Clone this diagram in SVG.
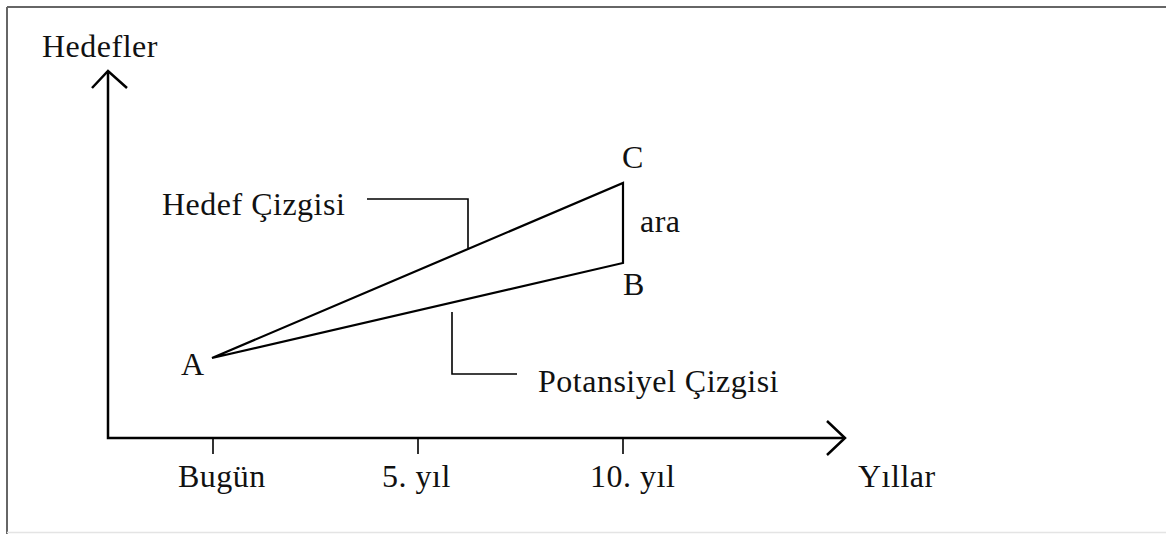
<svg xmlns="http://www.w3.org/2000/svg" width="1166" height="534" viewBox="0 0 1166 534">
<style>
text{font-family:"Liberation Serif","Times New Roman",serif;font-size:32px;fill:#111;letter-spacing:0.5px}
.ax{stroke:#000;stroke-width:2.5;fill:none}
.ln{stroke:#000;stroke-width:2.2;fill:none;stroke-linejoin:miter}
.ld{stroke:#000;stroke-width:1.6;fill:none}
</style>
<rect width="1166" height="534" fill="#fff"/>
<g id="frame">
<line x1="7" y1="7" x2="1166" y2="7" stroke="#666" stroke-width="2"/>
<line x1="7" y1="7" x2="7" y2="534" stroke="#666" stroke-width="2"/>
<line x1="7" y1="532.5" x2="1166" y2="532.5" stroke="#e4e4e4" stroke-width="1.5"/>
</g>
<g id="connectors">
<path class="ax" d="M108,71 V438 H845"/>
<path class="ax" d="M92,88 L108,71 L127,88"/>
<path class="ax" d="M827,421 L845,438 L827,455"/>
<path class="ld" d="M213,439 V454 M418,439 V454 M623,439 V454"/>
<path class="ln" d="M212,358 L623,183 L623,263 Z"/>
<path class="ld" d="M367,199 H468 V248"/>
<path class="ld" d="M452,312 V374 H517"/>
</g>
<g id="y-axis-label"><text x="42" y="57">Hedefler</text></g>
<g id="x-axis-label"><text x="858" y="487">Yıllar</text></g>
<g id="tick-bugun"><text x="178" y="487">Bugün</text></g>
<g id="tick-5"><text x="382" y="487">5. yıl</text></g>
<g id="tick-10"><text x="590" y="487">10. yıl</text></g>
<g id="point-a"><text x="181" y="375">A</text></g>
<g id="point-b"><text x="623" y="295">B</text></g>
<g id="point-c"><text x="622" y="168">C</text></g>
<g id="gap-label"><text x="640" y="232">ara</text></g>
<g id="hedef-cizgisi"><text x="162" y="215">Hedef Çizgisi</text></g>
<g id="potansiyel-cizgisi"><text x="538" y="392">Potansiyel Çizgisi</text></g>
</svg>
